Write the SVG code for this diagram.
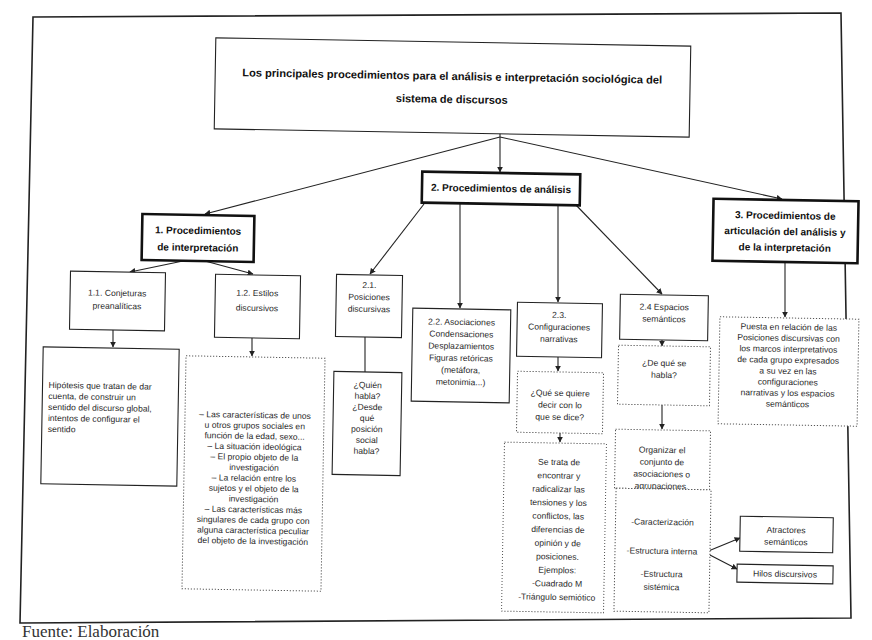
<svg xmlns="http://www.w3.org/2000/svg" width="872" height="640" viewBox="0 0 872 640">
<defs>
<marker id="ah" viewBox="0 0 10 10" refX="9" refY="5" markerWidth="6" markerHeight="6" orient="auto-start-reverse" markerUnits="userSpaceOnUse"><path d="M0,0 L10,5 L0,10 z" fill="#222"/></marker>
<style>
.t{font-family:"Liberation Sans",Arial,sans-serif;fill:#2a2a2a;text-anchor:middle;font-size:8.6px}
.l{text-anchor:start}
.b{font-weight:bold;fill:#111;font-size:10px}
.tt{font-weight:bold;fill:#111;font-size:11px}
.box{fill:#fff;stroke:#222;stroke-width:1.1}
.thick{stroke-width:2.6;stroke:#111}
.dot{stroke:#555;stroke-dasharray:1.2 1.8;stroke-width:1}
.ln{stroke:#222;stroke-width:1.1;fill:none}
.ar{marker-end:url(#ah)}
.n{transform:rotate(1deg);transform-box:fill-box;transform-origin:center}
</style>
</defs>
<rect width="872" height="640" fill="#fff"/>
<polygon points="33,17 841,13 851,618 20,623" fill="none" stroke="#222" stroke-width="1.6"/>
<text x="22" y="637" style="font-family:'Liberation Serif',serif;font-size:17px;fill:#333">Fuente: Elaboración</text>

<g id="connectors">
<line class="ln ar" x1="500" y1="133" x2="500" y2="172"/>
<line class="ln ar" x1="500" y1="137" x2="205" y2="214"/>
<line class="ln ar" x1="500" y1="137" x2="782" y2="199"/>
<line class="ln ar" x1="183" y1="261" x2="130" y2="272"/>
<line class="ln ar" x1="205" y1="261" x2="253" y2="274"/>
<line class="ln ar" x1="113" y1="330" x2="113" y2="347"/>
<line class="ln ar" x1="252" y1="338" x2="252" y2="356"/>
<line class="ln ar" x1="424" y1="204" x2="370" y2="274"/>
<line class="ln" x1="365" y1="337" x2="365" y2="372"/>
<line class="ln ar" x1="460" y1="204" x2="460" y2="308"/>
<line class="ln ar" x1="558" y1="204" x2="558" y2="302"/>
<line class="ln ar" x1="558" y1="357" x2="558" y2="371"/>
<line class="ln ar" x1="560" y1="433" x2="560" y2="442"/>
<line class="ln ar" x1="575" y1="204" x2="662" y2="294"/>
<line class="ln ar" x1="662" y1="340" x2="662" y2="346"/>
<line class="ln ar" x1="662" y1="405" x2="662" y2="429"/>
<line class="ln ar" x1="785" y1="262" x2="785" y2="317"/>
<line class="ln ar" x1="706" y1="552" x2="740" y2="538"/>
<line class="ln ar" x1="708" y1="554" x2="737" y2="569"/>
</g>

<g id="title" class="n">
<rect class="box" x="215" y="42" width="475" height="91" stroke-width="1.6"/>
<text class="t tt" x="452" y="80" textLength="420" lengthAdjust="spacingAndGlyphs">Los principales procedimientos para el análisis e interpretación sociológica del</text>
<text class="t tt" x="452" y="103">sistema de discursos</text>
</g>

<g id="n2" class="n">
<rect class="box thick" x="422" y="173" width="158" height="31"/>
<text class="t b" x="501" y="192">2. Procedimientos de análisis</text>
</g>

<g id="n1" class="n">
<rect class="box thick" x="142" y="215" width="112" height="46"/>
<text class="t b" x="198" y="234">1. Procedimientos</text>
<text class="t b" x="198" y="251">de interpretación</text>
</g>

<g id="n3" class="n">
<rect class="box thick" x="713" y="200" width="145" height="62"/>
<text class="t b" x="785" y="219">3. Procedimientos de</text>
<text class="t b" x="785" y="235">articulación del análisis y</text>
<text class="t b" x="785" y="251">de la interpretación</text>
</g>

<g id="n11" class="n">
<rect class="box" x="70" y="272" width="95" height="58"/>
<text class="t" x="117" y="296">1.1. Conjeturas</text>
<text class="t" x="117" y="309">preanalíticas</text>
</g>

<g id="n12" class="n">
<rect class="box" x="215" y="275" width="85" height="63"/>
<text class="t" x="257" y="296">1.2. Estilos</text>
<text class="t" x="257" y="311">discursivos</text>
</g>

<g id="n11d" class="n">
<rect class="box" x="42" y="348" width="136" height="137"/>
<text class="t l" x="48" y="389">Hipótesis que tratan de dar</text>
<text class="t l" x="48" y="400">cuenta, de construir un</text>
<text class="t l" x="48" y="411">sentido del discurso global,</text>
<text class="t l" x="48" y="422">intentos de configurar el</text>
<text class="t l" x="48" y="433">sentido</text>
</g>

<g id="n12d" class="n">
<rect class="box dot" x="184" y="357" width="139" height="233"/>
<text class="t" x="254" y="418">– Las características de unos</text>
<text class="t" x="254" y="428.5">u otros grupos sociales en</text>
<text class="t" x="254" y="439">función de la edad, sexo...</text>
<text class="t" x="254" y="449.5">– La situación ideológica</text>
<text class="t" x="254" y="460">– El propio objeto de la</text>
<text class="t" x="254" y="470.5">investigación</text>
<text class="t" x="254" y="481">– La relación entre los</text>
<text class="t" x="254" y="491.5">sujetos y el objeto de la</text>
<text class="t" x="254" y="502">investigación</text>
<text class="t" x="254" y="512.5">– Las características más</text>
<text class="t" x="254" y="523">singulares de cada grupo con</text>
<text class="t" x="254" y="533.5">alguna característica peculiar</text>
<text class="t" x="254" y="544">del objeto de la investigación</text>
</g>

<g id="n21" class="n">
<rect class="box" x="336" y="275" width="66" height="62"/>
<text class="t" x="369" y="288">2.1.</text>
<text class="t" x="369" y="300">Posiciones</text>
<text class="t" x="369" y="312">discursivas</text>
</g>

<g id="n21d" class="n">
<rect class="box" x="333" y="372" width="68" height="103"/>
<text class="t" x="367" y="388">¿Quién</text>
<text class="t" x="367" y="399">habla?</text>
<text class="t" x="367" y="410">¿Desde</text>
<text class="t" x="367" y="421">qué</text>
<text class="t" x="367" y="432">posición</text>
<text class="t" x="367" y="443">social</text>
<text class="t" x="367" y="454">habla?</text>
</g>

<g id="n22" class="n">
<rect class="box" x="412" y="309" width="98" height="93" stroke-width="1.6"/>
<text class="t" x="461" y="325">2.2. Asociaciones</text>
<text class="t" x="461" y="337">Condensaciones</text>
<text class="t" x="461" y="349">Desplazamientos</text>
<text class="t" x="461" y="361">Figuras retóricas</text>
<text class="t" x="461" y="373">(metáfora,</text>
<text class="t" x="461" y="385">metonimia...)</text>
</g>

<g id="n23" class="n">
<rect class="box" x="517" y="303" width="85" height="54"/>
<text class="t" x="559" y="318">2.3.</text>
<text class="t" x="559" y="330">Configuraciones</text>
<text class="t" x="559" y="342">narrativas</text>
</g>

<g id="n23a" class="n">
<rect class="box dot" x="517" y="372" width="86" height="61"/>
<text class="t" x="560" y="396">¿Qué se quiere</text>
<text class="t" x="560" y="408">decir con lo</text>
<text class="t" x="560" y="420">que se dice?</text>
</g>

<g id="n23b" class="n">
<rect class="box dot" x="503" y="443" width="102" height="169"/>
<text class="t" x="558" y="465">Se trata de</text>
<text class="t" x="558" y="478.5">encontrar y</text>
<text class="t" x="558" y="492">radicalizar las</text>
<text class="t" x="558" y="505.5">tensiones y los</text>
<text class="t" x="558" y="519">conflictos, las</text>
<text class="t" x="558" y="532.5">diferencias de</text>
<text class="t" x="558" y="546">opinión y de</text>
<text class="t" x="558" y="559.5">posiciones.</text>
<text class="t" x="558" y="573">Ejemplos:</text>
<text class="t" x="558" y="586.5">-Cuadrado M</text>
<text class="t" x="558" y="600">-Triángulo semiótico</text>
</g>

<g id="n24" class="n">
<rect class="box" x="620" y="295" width="88" height="45"/>
<text class="t" x="664" y="310">2.4  Espacios</text>
<text class="t" x="664" y="322">semánticos</text>
</g>

<g id="n24a" class="n">
<rect class="box dot" x="618" y="346" width="92" height="59"/>
<text class="t" x="664" y="366">¿De qué se</text>
<text class="t" x="664" y="378">habla?</text>
</g>

<g id="n24b" class="n">
<rect class="box dot" x="615" y="430" width="95" height="59"/>
<text class="t" x="662" y="453">Organizar el</text>
<text class="t" x="662" y="465">conjunto de</text>
<text class="t" x="662" y="477">asociaciones o</text>
<text class="t" x="662" y="489">agrupaciones.</text>
</g>

<g id="n24c" class="n">
<rect class="box dot" x="615" y="489" width="95" height="123"/>
<text class="t" x="662" y="525">-Caracterización</text>
<text class="t" x="662" y="554">-Estructura interna</text>
<text class="t" x="662" y="577">-Estructura</text>
<text class="t" x="662" y="590">sistémica</text>
</g>

<g id="natr" class="n">
<rect class="box" x="740" y="517" width="93" height="35"/>
<text class="t" x="786" y="533">Atractores</text>
<text class="t" x="786" y="545">semánticos</text>
</g>

<g id="nhil" class="n">
<rect class="box" x="737" y="565" width="96" height="18"/>
<text class="t" x="785" y="577">Hilos discursivos</text>
</g>

<g id="n3d" class="n">
<rect class="box dot" x="719" y="318" width="139" height="107"/>
<text class="t" x="788" y="330">Puesta en relación de las</text>
<text class="t" x="788" y="341">Posiciones discursivas con</text>
<text class="t" x="788" y="352">los marcos interpretativos</text>
<text class="t" x="788" y="363">de cada grupo expresados</text>
<text class="t" x="788" y="374">a su vez en las</text>
<text class="t" x="788" y="385">configuraciones</text>
<text class="t" x="788" y="396">narrativas y los espacios</text>
<text class="t" x="788" y="407">semánticos</text>
</g>
</svg>
